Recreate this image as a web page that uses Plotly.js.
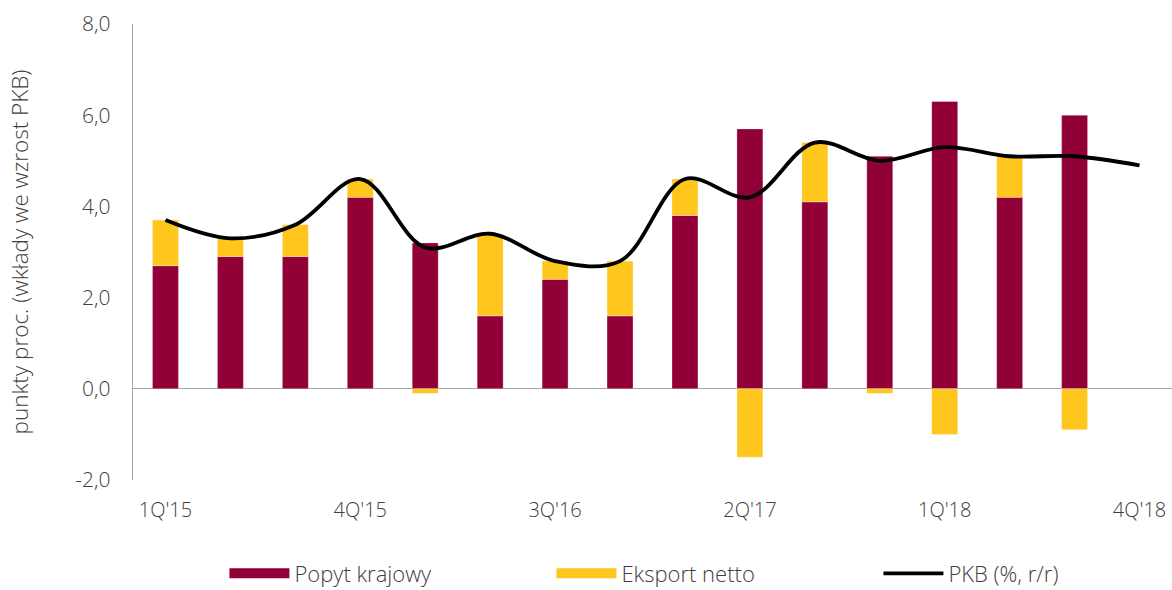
<!DOCTYPE html>
<html>
<head>
<meta charset="utf-8">
<script src="https://cdn.plot.ly/plotly-3.0.1.min.js"></script>
<style>html,body{margin:0;padding:0;background:#fff;}#chart{width:1172px;height:590px;}</style>
</head>
<body>
<div id="chart"></div>
<script>
const quarters = ["1Q'15","2Q'15","3Q'15","4Q'15","1Q'16","2Q'16","3Q'16","4Q'16","1Q'17","2Q'17","3Q'17","4Q'17","1Q'18","2Q'18","3Q'18","4Q'18"];
const barQuarters = quarters.slice(0, 15);
const popytKrajowy = [2.7, 2.9, 2.9, 4.2, 3.2, 1.6, 2.4, 1.6, 3.8, 5.7, 4.1, 5.1, 6.3, 4.2, 6.0];
const eksportNetto = [1.0, 0.4, 0.7, 0.4, -0.1, 1.8, 0.4, 1.2, 0.8, -1.5, 1.3, -0.1, -1.0, 0.9, -0.9];
const pkb = [3.7, 3.3, 3.6, 4.6, 3.1, 3.4, 2.8, 2.8, 4.6, 4.2, 5.4, 5.0, 5.3, 5.1, 5.1, 4.9];
const tickQuarters = ["1Q'15","4Q'15","3Q'16","2Q'17","1Q'18","4Q'18"];
const yTicks = [-2, 0, 2, 4, 6, 8];
const yTickText = yTicks.map(v => v.toFixed(1).replace('.', ','));

const MAROON = '#910036';
const YELLOW = '#FFC61E';
const FONT = '"Open Sans", "Segoe UI", sans-serif';
const TXT = '#404040';

const traces = [
  {type:'bar', x:barQuarters, y:popytKrajowy, name:'Popyt krajowy', width:0.4,
   marker:{color:MAROON, line:{color:'rgba(255,255,255,0.5)', width:0.6}}, showlegend:false, hoverinfo:'y'},
  {type:'bar', x:barQuarters, y:eksportNetto, name:'Eksport netto', width:0.4,
   marker:{color:YELLOW, line:{color:'rgba(255,255,255,0.5)', width:0.6}}, showlegend:false, hoverinfo:'y'},
  {type:'scatter', mode:'lines', x:quarters, y:pkb, name:'PKB (%, r/r)',
   line:{color:'#000', width:3.8, shape:'spline', smoothing:1}, showlegend:false},
  // legend entries
  {type:'scatter', mode:'lines', x:[null], y:[null], name:'Popyt krajowy', line:{color:MAROON, width:15}},
  {type:'scatter', mode:'lines', x:[null], y:[null], name:'Eksport netto', line:{color:YELLOW, width:15}},
  {type:'scatter', mode:'lines', x:[null], y:[null], name:'PKB (%, r/r)', line:{color:'#000', width:3.8}}
];

const layout = {
  width:1172, height:590,
  margin:{l:133, r:0, t:24, b:110, autoexpand:false},
  paper_bgcolor:'#fff', plot_bgcolor:'#fff',
  barmode:'relative',
  separators:', ',
  font:{family:FONT, color:TXT, size:18, weight:300},
  xaxis:{type:'category', categoryorder:'array', categoryarray:quarters, range:[-0.5,15.5],
    tickmode:'array', tickvals:tickQuarters, ticktext:tickQuarters,
    showgrid:false, zeroline:false, showline:false, ticks:'',
    ticklabelstandoff:16, tickfont:{size:20, family:FONT, color:TXT}},
  yaxis:{range:[-2,8], tickmode:'array', tickvals:yTicks, ticktext:yTickText,
    showgrid:false, zeroline:true, zerolinecolor:'#a6a6a6', zerolinewidth:1.3,
    showline:true, linecolor:'#a6a6a6', linewidth:1.3, ticks:'',
    ticklabelstandoff:17, tickfont:{size:21, family:FONT, color:TXT},
    title:{text:'punkty proc. (wkłady we wzrost PKB)', font:{size:22.5, family:FONT, color:TXT}, standoff:40}},
  legend:{orientation:'h', x:0.088, xanchor:'left', y:-0.205, yanchor:'middle',
    entrywidth:252, entrywidthmode:'pixels', itemwidth:60,
    font:{size:22, family:FONT, color:TXT}, bgcolor:'rgba(0,0,0,0)', itemclick:false},
  showlegend:true
};

Plotly.newPlot('chart', traces, layout, {displayModeBar:false, staticPlot:true});
</script>
</body>
</html>
